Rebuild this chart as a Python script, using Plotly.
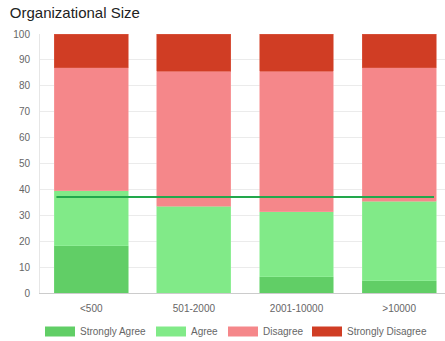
import plotly.graph_objects as go

# Survey responses by organizational size (percent of respondents)
categories = ["<500", "501-2000", "2001-10000", ">10000"]
strongly_agree = [18.2, 0.0, 6.3, 4.7]
agree = [21.2, 33.4, 25.0, 30.8]
disagree = [47.5, 52.3, 54.3, 51.5]
strongly_disagree = [13.1, 14.3, 14.4, 13.0]
average_agree = 37.1

series = [
    ("Strongly Agree", strongly_agree, "#61ce66", "#74d879"),
    ("Agree", agree, "#81ea88", "#98f09e"),
    ("Disagree", disagree, "#f5878a", "#f89ea0"),
    ("Strongly Disagree", strongly_disagree, "#d03d24", "#da5a45"),
]
# left edge (px) of each legend entry's label
legend_text_px = [79, 190, 262, 346]

W, H = 445, 341
x_idx = list(range(len(categories)))

fig = go.Figure()
for i, (name, vals, color, edge) in enumerate(series):
    lg = "legend" if i == 0 else f"legend{i + 1}"
    fig.add_trace(go.Bar(
        x=x_idx, y=vals, name=name, width=0.72, legendgroup=name, showlegend=False,
        marker=dict(color=color, line=dict(color=edge, width=0.6)),
        hovertemplate="%{y}<extra>" + name + "</extra>",
    ))
    # wide rectangular legend swatch for the series
    fig.add_trace(go.Scatter(
        x=[None], y=[None], mode="lines", name=name, legendgroup=name, legend=lg,
        line=dict(color=color, width=10), hoverinfo="skip",
    ))
    fig.update_layout({lg: dict(
        orientation="h", xref="container", yref="container",
        x=(legend_text_px[i] - 39) / W, xanchor="left",
        y=(H - 331.5) / H, yanchor="middle",
        bgcolor="rgba(0,0,0,0)",
        font=dict(size=10, color="#666"),
    )})

# Reference line for the overall agreement level
fig.add_trace(go.Scatter(
    x=[x_idx[0] - 0.34, x_idx[-1] + 0.34], y=[average_agree, average_agree],
    mode="lines", line=dict(color="#22a84c", width=2), showlegend=False,
    hoverinfo="skip",
))

fig.update_layout(
    width=W, height=H,
    barmode="stack",
    margin=dict(l=40, r=0, t=34, b=48, autoexpand=False),
    plot_bgcolor="white", paper_bgcolor="white",
    font=dict(family="Liberation Sans, Arial, sans-serif", size=10, color="#666"),
    title=dict(text="Organizational Size", x=0.022, xanchor="left", y=0.962, yanchor="middle",
               font=dict(size=15, color="#222")),
    xaxis=dict(range=[-0.5, 3.447], tickvals=x_idx, ticktext=categories,
               showgrid=False, showline=True, linecolor="#ccc", linewidth=1,
               ticks="", zeroline=False, fixedrange=True, ticklabelstandoff=6),
    yaxis=dict(range=[0, 100], dtick=10, showgrid=True, gridcolor="#ebebeb",
               showline=True, linecolor="#e6e6e6", zeroline=False, ticks="",
               ticklabelstandoff=7),
)

fig.write_html("out.html")
